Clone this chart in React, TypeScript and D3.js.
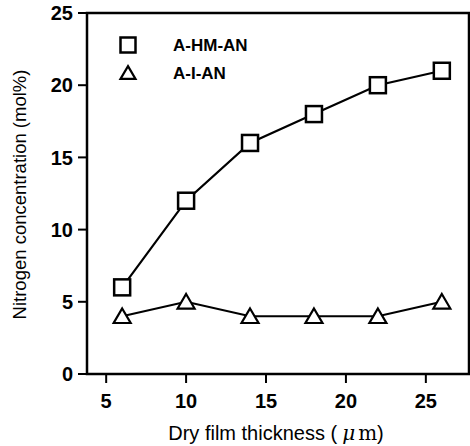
import React from 'react';
import * as d3 from 'd3';

const thickness = [6, 10, 14, 18, 22, 26];
const hmValues = [6, 12, 16, 18, 20, 21];
const iValues = [4, 5, 4, 4, 4, 5];
const xTicks = [5, 10, 15, 20, 25];
const yTicks = [0, 5, 10, 15, 20, 25];

const App = () => {
  const width = 470;
  const height = 446;
  const left = 87;
  const right = 469;
  const top = 13;
  const bottom = 374;

  const x = d3.scaleLinear().domain([3.8, 27.7]).range([left, right]);
  const y = d3.scaleLinear().domain([0, 25]).range([bottom, top]);

  const line = d3.line<number>()
    .x((d, i) => x(thickness[i]))
    .y(d => y(d));

  const font = 'Liberation Sans, Arial, sans-serif';
  const sq = 16;
  const tri = (cx: number, cy: number, s: number) => {
    const h = s * 0.9;
    return `M${cx},${cy - h / 2 - 1}L${cx + s / 2 + 1},${cy + h / 2}L${cx - s / 2 - 1},${cy + h / 2}Z`;
  };

  return (
    <svg width={width} height={height} style={{ position: 'absolute', left: 0, top: 0 }}>
      <rect width={width} height={height} fill="#fff" />
      {/* frame */}
      <rect x={left} y={top} width={right - left} height={bottom - top} fill="none" stroke="#000" strokeWidth={2.5} />
      {/* y ticks */}
      {yTicks.map(t => (
        <g key={t}>
          <line x1={left - 9} x2={left} y1={y(t)} y2={y(t)} stroke="#000" strokeWidth={2} />
          <text x={left - 14} y={y(t)} dy="0.36em" textAnchor="end" fontFamily={font} fontWeight="bold" fontSize={20}>{t}</text>
        </g>
      ))}
      {/* x ticks */}
      {xTicks.map(t => (
        <g key={t}>
          <line x1={x(t)} x2={x(t)} y1={bottom} y2={bottom + 9} stroke="#000" strokeWidth={2} />
          <text x={x(t)} y={bottom + 34} textAnchor="middle" fontFamily={font} fontWeight="bold" fontSize={20}>{t}</text>
        </g>
      ))}
      <text x={276} y={440} textAnchor="middle" fontFamily={font} fontSize={20}>
        Dry film thickness (<tspan fontFamily="DejaVu Serif, serif" fontStyle="italic" dx={5}>μ</tspan><tspan fontFamily="DejaVu Serif, serif" dx={3}>m</tspan>)
      </text>
      <text transform={`translate(26,${(top + bottom) / 2 + 1}) rotate(-90)`} textAnchor="middle" fontFamily={font} fontSize={18.5}>
        Nitrogen concentration (mol%)
      </text>
      {/* series */}
      <path d={line(hmValues) || ''} fill="none" stroke="#000" strokeWidth={2.2} />
      <path d={line(iValues) || ''} fill="none" stroke="#000" strokeWidth={2.2} />
      {hmValues.map((v, i) => (
        <rect key={i} x={x(thickness[i]) - sq / 2} y={y(v) - sq / 2} width={sq} height={sq} fill="#fff" stroke="#000" strokeWidth={2.5} />
      ))}
      {iValues.map((v, i) => (
        <path key={i} d={tri(x(thickness[i]), y(v), 15)} fill="#fff" stroke="#000" strokeWidth={2.2} />
      ))}
      {/* legend */}
      <rect x={128 - 7.5} y={45 - 7.5} width={15} height={15} fill="#fff" stroke="#000" strokeWidth={2.5} />
      <text x={173} y={45} dy="0.36em" fontFamily={font} fontWeight="bold" fontSize={17}>A-HM-AN</text>
      <path d={tri(128, 73, 13)} fill="#fff" stroke="#000" strokeWidth={2.2} />
      <text x={173} y={73} dy="0.36em" fontFamily={font} fontWeight="bold" fontSize={17}>A-I-AN</text>
    </svg>
  );
};

export default App;
